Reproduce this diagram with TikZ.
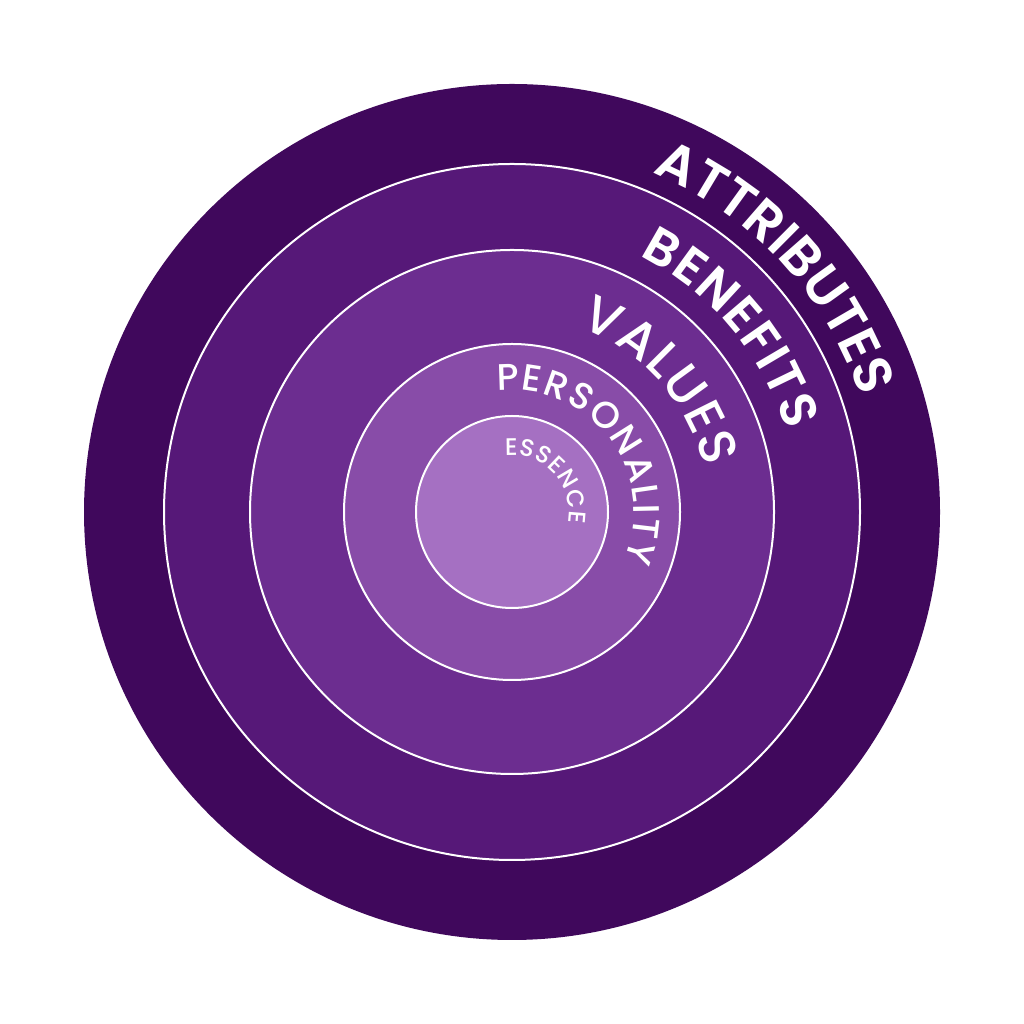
\documentclass[tikz,border=0pt]{standalone}
\usepackage{fontspec}
\setmainfont{Poppins}[BoldFont={Poppins SemiBold}]
\newfontfamily\popmed{Poppins Medium}
\usetikzlibrary{decorations.text}
\definecolor{ringA}{RGB}{64,8,92}
\definecolor{ringB}{RGB}{86,24,120}
\definecolor{ringC}{RGB}{108,45,144}
\definecolor{ringD}{RGB}{136,76,168}
\definecolor{ringE}{RGB}{165,112,194}
\tikzset{
  ringline/.style={draw=white, line width=2pt},
  arclabel/.style={decorate, decoration={text along path, text align=fit to path, text color=white, text={#1}}}
}
\begin{document}
\begin{tikzpicture}[x=1pt,y=1pt]
\useasboundingbox (0,0) rectangle (1024,1024);
\coordinate (c) at (512,512);
\fill[ringA] (c) circle[radius=428];
\fill[ringB] (c) circle[radius=348];
\draw[ringline] (c) circle[radius=348];
\fill[ringC] (c) circle[radius=262];
\draw[ringline] (c) circle[radius=262];
\fill[ringD] (c) circle[radius=168];
\draw[ringline] (c) circle[radius=168];
\fill[ringE] (c) circle[radius=96];
\draw[ringline] (c) circle[radius=96];
\path[arclabel={|\fontsize{54}{54}\selectfont\bfseries|ATTRIBUTES}] (c) ++(67.5:367) arc[start angle=67.5, end angle=20.5, radius=367];
\path[arclabel={|\fontsize{51}{51}\selectfont\bfseries|BENEFITS}] (c) ++(63.5:286) arc[start angle=63.5, end angle=16.5, radius=286];
\path[arclabel={|\fontsize{52}{52}\selectfont\popmed|VALUES}] (c) ++(70:197) arc[start angle=70, end angle=13, radius=197];
\path[arclabel={|\fontsize{37}{37}\selectfont\popmed|PERSONALITY}] (c) ++(97:122) arc[start angle=97, end angle=-23, radius=122];
\path[arclabel={|\fontsize{24}{24}\selectfont\popmed|ESSENCE}] (c) ++(97:57) arc[start angle=97, end angle=-11, radius=57];
\end{tikzpicture}
\end{document}
